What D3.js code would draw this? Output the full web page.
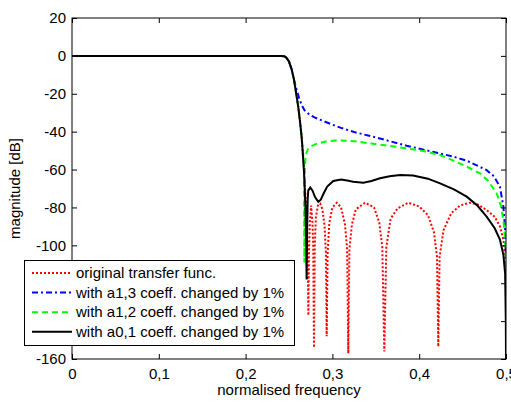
<!DOCTYPE html>
<html>
<head>
<meta charset="utf-8">
<script src="https://cdn.jsdelivr.net/npm/d3@7"></script>
<style>
  body { margin: 0; background: #fff; }
  svg { font-family: "Liberation Sans", Arial, sans-serif; }
</style>
</head>
<body>
<div id="chart"></div>
<script>
// normalised frequency / magnitude [dB] pairs
const original = [
  [0, 0], [0.1, 0], [0.2, 0], [0.24, 0], [0.2445, -0.2], [0.247, -1], [0.25, -3],
  [0.253, -7], [0.2555, -12], [0.258, -19], [0.2607, -27], [0.263, -36], [0.2646, -43],
  [0.266, -52], [0.2673, -61], [0.2685, -70], [0.2697, -80], [0.2707, -92], [0.2716, -108],
  [0.2723, -137], [0.273, -105], [0.274, -88], [0.2755, -79], [0.277, -88], [0.2779, -100],
  [0.2788, -154], [0.2797, -100], [0.281, -85], [0.2835, -78.5], [0.286, -78], [0.2885, -81],
  [0.291, -90], [0.2925, -104], [0.2934, -148], [0.2945, -104], [0.2965, -88], [0.3, -80],
  [0.305, -77.5], [0.31, -80], [0.3145, -89], [0.317, -102], [0.3183, -157], [0.3196, -102],
  [0.3225, -89], [0.327, -81], [0.3376, -77.5], [0.348, -80], [0.354, -88], [0.3575, -101],
  [0.3598, -156], [0.3621, -101], [0.367, -86], [0.375, -80.5], [0.3875, -77.5], [0.4, -79.5],
  [0.41, -84], [0.417, -93], [0.4205, -106], [0.422, -153.5], [0.4235, -106], [0.428, -92],
  [0.437, -83], [0.447, -79], [0.458, -77.5], [0.468, -78.5], [0.478, -81.5], [0.487, -85],
  [0.493, -90], [0.497, -97], [0.4995, -108], [0.5, -115]
];

const a13 = [
  [0, 0], [0.1, 0], [0.2, 0], [0.24, 0], [0.2445, -0.2], [0.247, -1], [0.25, -3],
  [0.253, -7], [0.2555, -12], [0.2588, -18], [0.2615, -22], [0.2646, -26], [0.268, -28.8],
  [0.274, -31.2], [0.28, -32.6], [0.289, -34.3], [0.3, -36.3], [0.31, -38], [0.325, -40.2],
  [0.347, -42.7], [0.366, -45], [0.3856, -47.4], [0.405, -49.5], [0.424, -51.5], [0.44, -53.3],
  [0.4547, -55.3], [0.465, -57.5], [0.4777, -60.3], [0.486, -63.5], [0.493, -69],
  [0.497, -79.6], [0.499, -92], [0.5, -108]
];

const a12 = [
  [0, 0], [0.1, 0], [0.2, 0], [0.24, 0], [0.2445, -0.2], [0.247, -1], [0.25, -3],
  [0.253, -7], [0.2555, -12], [0.258, -19], [0.2607, -27], [0.263, -36], [0.2646, -43],
  [0.266, -50], [0.2672, -58], [0.2677, -109], [0.2683, -58], [0.2695, -52], [0.2715, -49.5],
  [0.275, -47.8], [0.28, -46.7], [0.2895, -45.5], [0.3, -44.8], [0.31, -44.6], [0.328, -45.2],
  [0.345, -46.3], [0.366, -47.5], [0.385, -48.8], [0.405, -50.2], [0.424, -52.3],
  [0.438, -55], [0.455, -58.5], [0.47, -62], [0.4795, -66], [0.4893, -72.6], [0.494, -79],
  [0.497, -86.6], [0.499, -97], [0.5, -111]
];

const a01 = [
  [0, 0], [0.1, 0], [0.2, 0], [0.24, 0], [0.2445, -0.2], [0.247, -1], [0.25, -3],
  [0.253, -7], [0.2555, -12], [0.258, -19], [0.2607, -27], [0.263, -36], [0.2646, -43],
  [0.266, -52], [0.2673, -61], [0.269, -80], [0.2698, -100], [0.2703, -118], [0.2708, -95],
  [0.2715, -76], [0.2722, -71], [0.2745, -69.5], [0.277, -71], [0.28, -74.5], [0.2837, -77],
  [0.2865, -76], [0.29, -72.5], [0.294, -69], [0.301, -66], [0.31, -65.2], [0.317, -65.8],
  [0.324, -66.4], [0.3357, -67], [0.345, -66], [0.3548, -64.6], [0.366, -63.5], [0.378, -62.9],
  [0.393, -63.2], [0.41, -64.8], [0.424, -67.3], [0.44, -70.5], [0.4547, -74.3], [0.467, -79],
  [0.4777, -84.9], [0.487, -91], [0.493, -97], [0.497, -105], [0.499, -115], [0.4998, -140],
  [0.5, -160]
];

const seriesNames = [
  "original transfer func.",
  "with a1,3 coeff. changed by 1%",
  "with a1,2 coeff. changed by 1%",
  "with a0,1 coeff. changed by 1%"
];
const xTicks = [0, 0.1, 0.2, 0.3, 0.4, 0.5];
const yTicks = [20, 0, -20, -40, -60, -80, -100, -120, -140, -160];

const width = 511;
const height = 403;
const plotLeft = 72, plotRight = 506, plotTop = 18, plotBottom = 359;

const series = [
  { data: original, color: "#ff0000", dash: "2,2" },
  { data: a13, color: "#0000ff", dash: "6,3,2,3" },
  { data: a12, color: "#00ff00", dash: "6,4" },
  { data: a01, color: "#000000", dash: null }
];

const svg = d3.select("#chart").append("svg")
  .attr("width", width)
  .attr("height", height);

const x = d3.scaleLinear().domain([0, 0.5]).range([plotLeft, plotRight]);
const y = d3.scaleLinear().domain([-160, 20]).range([plotBottom, plotTop]);

const fmt = (d) => String(d).replace(".", ",");

svg.append("defs").append("clipPath").attr("id", "plot")
  .append("rect")
  .attr("x", plotLeft).attr("y", plotTop)
  .attr("width", plotRight - plotLeft).attr("height", plotBottom - plotTop);

const line = d3.line()
  .x((d) => x(d[0]))
  .y((d) => y(d[1]));

svg.append("g")
  .attr("clip-path", "url(#plot)")
  .selectAll("path")
  .data(series)
  .enter()
  .append("path")
  .attr("d", (d) => line(d.data))
  .attr("fill", "none")
  .attr("stroke", (d) => d.color)
  .attr("stroke-width", 2)
  .attr("stroke-dasharray", (d) => d.dash);

// axes, MATLAB style: ticks inside on all four sides
const axisStyle = (g) => {
  g.selectAll("text").attr("font-size", 15).attr("fill", "#000");
  g.selectAll("line").attr("stroke", "#000");
  g.select(".domain").remove();
};

svg.append("g")
  .attr("transform", `translate(0,${plotBottom})`)
  .call(d3.axisBottom(x).tickValues(xTicks).tickFormat(fmt).tickSizeInner(-5).tickSizeOuter(0).tickPadding(9))
  .call(axisStyle);

svg.append("g")
  .attr("transform", `translate(${plotLeft},0)`)
  .call(d3.axisLeft(y).tickValues(yTicks).tickFormat((d) => String(d)).tickSizeInner(-5).tickSizeOuter(0).tickPadding(6))
  .call(axisStyle);

svg.append("g")
  .attr("transform", `translate(0,${plotTop})`)
  .call(d3.axisTop(x).tickValues(xTicks).tickFormat("").tickSizeInner(-5).tickSizeOuter(0))
  .call(axisStyle);

svg.append("g")
  .attr("transform", `translate(${plotRight},0)`)
  .call(d3.axisRight(y).tickValues(yTicks).tickFormat("").tickSizeInner(-5).tickSizeOuter(0))
  .call(axisStyle);

svg.append("rect")
  .attr("x", plotLeft).attr("y", plotTop)
  .attr("width", plotRight - plotLeft).attr("height", plotBottom - plotTop)
  .attr("fill", "none")
  .attr("stroke", "#000")
  .attr("stroke-width", 1);

svg.append("text")
  .attr("x", (plotLeft + plotRight) / 2)
  .attr("y", 395)
  .attr("text-anchor", "middle")
  .attr("font-size", 15)
  .text("normalised frequency");

svg.append("text")
  .attr("transform", `translate(20,${(plotTop + plotBottom) / 2}) rotate(-90)`)
  .attr("text-anchor", "middle")
  .attr("font-size", 15)
  .text("magnitude [dB]");

// legend
const legend = svg.append("g");
legend.append("rect")
  .attr("x", 24.5).attr("y", 260.5)
  .attr("width", 270).attr("height", 85)
  .attr("fill", "#fff")
  .attr("stroke", "#000");

const rows = legend.selectAll("g.row")
  .data(series)
  .enter()
  .append("g")
  .attr("class", "row")
  .attr("transform", (d, i) => `translate(0,${273 + i * 19.6})`);

rows.append("line")
  .attr("x1", 32).attr("x2", 72)
  .attr("stroke", (d) => d.color)
  .attr("stroke-width", 2)
  .attr("stroke-dasharray", (d) => d.dash);

rows.append("text")
  .attr("x", 76)
  .attr("dy", "0.35em")
  .attr("font-size", 15)
  .text((d, i) => seriesNames[i]);
</script>
</body>
</html>
